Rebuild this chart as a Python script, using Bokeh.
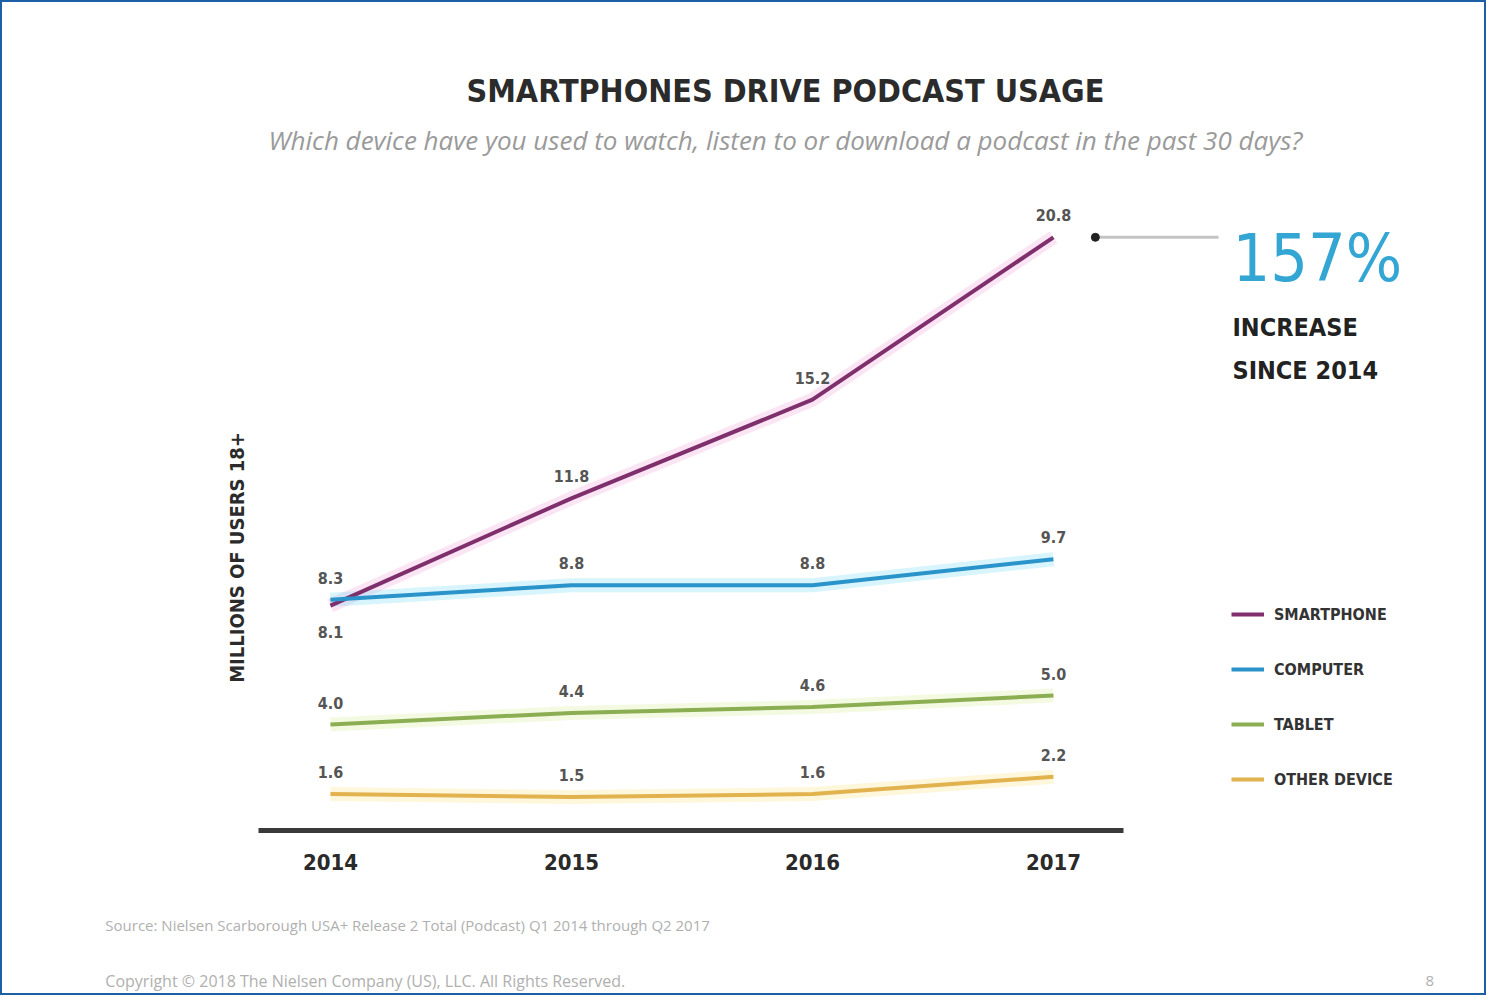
import math
from bokeh.plotting import figure
from bokeh.models import (ColumnDataSource, LinearAxis, FixedTicker, Range1d,
                          Legend, LegendItem)
from bokeh.core.properties import value
from bokeh.embed import file_html
from bokeh.resources import INLINE

# ---------------- data ----------------
years = [2014, 2015, 2016, 2017]
series_names = ["SMARTPHONE", "COMPUTER", "TABLET", "OTHER DEVICE"]
smartphone = [8.1, 11.8, 15.2, 20.8]
computer = [8.3, 8.8, 8.8, 9.7]
tablet = [4.0, 4.4, 4.6, 5.0]
other_device = [1.6, 1.5, 1.6, 2.2]
increase_pct = "157%"
title_text = "SMARTPHONES DRIVE PODCAST USAGE"
subtitle_text = "Which device have you used to watch, listen to or download a podcast in the past 30 days?"
y_title = "MILLIONS OF USERS 18+"
source_text = "Source: Nielsen Scarborough USA+ Release 2 Total (Podcast) Q1 2014 through Q2 2017"
copyright_text = "Copyright \u00a9 2018 The Nielsen Company (US), LLC. All Rights Reserved."
page_no = "8"

# ---------------- styling ----------------
NARROW_S = "DejaVu Sans Condensed, Liberation Sans Narrow, sans-serif"
NARROW = value(NARROW_S)
colors = ["#7e2f6c", "#2a93c9", "#8bae52", "#e2b24e"]
glows = ["#f2a8dc", "#7fdcf5", "#d6ef9a", "#fbe58a"]

W, H = 1486, 995
p = figure(width=W, height=H, output_backend="svg", toolbar_location=None,
           x_range=Range1d(2012.631, 2018.797), y_range=Range1d(-5.345, 28.966),
           min_border=0, min_border_left=0, min_border_right=0,
           min_border_top=0, min_border_bottom=0)
p.xaxis.visible = False
p.yaxis.visible = False
p.xgrid.visible = False
p.ygrid.visible = False
p.background_fill_color = "white"
p.border_fill_color = "white"
p.outline_line_color = "#1c5fa6"
p.outline_line_width = 3

# x axis at the baseline
xaxis = LinearAxis(fixed_location=0.345, bounds=(2013.70, 2017.29))
xaxis.ticker = FixedTicker(ticks=years)
xaxis.major_label_overrides = {y: str(y) for y in years}
xaxis.axis_line_color = "#3a3a3a"
xaxis.axis_line_width = 5
xaxis.major_tick_line_color = None
xaxis.minor_tick_line_color = None
xaxis.major_label_text_font = NARROW_S
xaxis.major_label_text_font_style = "bold"
xaxis.major_label_text_font_size = "22px"
xaxis.major_label_text_color = "#2a2a2a"
xaxis.major_label_standoff = 18
p.add_layout(xaxis, "below")

all_series = [smartphone, computer, tablet, other_device]
items = []
for name, vals, c, g in zip(series_names, all_series, colors, glows):
    p.line(years, vals, line_color=g, line_width=14, line_alpha=0.3)
for name, vals, c, g in zip(series_names, all_series, colors, glows):
    r = p.line(years, vals, line_color=c, line_width=4)
    items.append(LegendItem(label=name, renderers=[r]))

# point labels
lab_x, lab_y, lab_t, lab_off = [], [], [], []
for si, vals in enumerate(all_series):
    for yr, v in zip(years, vals):
        lab_x.append(yr)
        lab_y.append(v)
        lab_t.append(f"{v:.1f}")
        if si == 0 and yr == years[0]:
            lab_off.append(26)
        else:
            lab_off.append(-22)
src = ColumnDataSource(dict(x=lab_x, y=lab_y, t=lab_t, off=lab_off))
p.text(x="x", y="y", text="t", y_offset="off", source=src,
       text_align="center", text_baseline="middle",
       text_font=NARROW, text_font_style="bold",
       text_font_size="16px", text_color="#555555")

# title and subtitle
p.text(x=[2015.888], y=[25.86], text=[title_text], text_align="center",
       text_baseline="middle", text_font=NARROW, text_font_style="bold",
       text_font_size="32px", text_color="#2b2b2b")
p.text(x=[2015.888], y=[24.14], text=[subtitle_text], text_align="center",
       text_baseline="middle", text_font=value("Open Sans"),
       text_font_style="italic", text_font_size="26px", text_color="#9a9a9a")

# y axis title
p.text(x=[2013.614], y=[9.76], text=[y_title], angle=math.pi / 2,
       text_align="center", text_baseline="middle", text_font=NARROW,
       text_font_style="bold", text_font_size="20px", text_color="#2b2b2b")

# callout
last = smartphone[-1]
p.segment(x0=[2017.174], y0=[last], x1=[2017.685], y1=[last],
          line_color="#c4c4c4", line_width=3)
p.scatter(x=[2017.174], y=[last], size=8, color="#222222")
p.text(x=[2017.743], y=[20.07], text=[increase_pct], text_align="left",
       text_baseline="middle", text_font=NARROW, text_font_size="66px",
       text_color="#34a6d3")
p.text(x=[2017.743, 2017.743], y=[17.69, 16.21],
       text=["INCREASE", f"SINCE {years[0]}"], text_align="left",
       text_baseline="middle", text_font=NARROW, text_font_style="bold",
       text_font_size="25px", text_color="#222222")

# footer
p.text(x=[2013.066], y=[-2.93], text=[source_text], text_align="left",
       text_baseline="middle", text_font=value("Open Sans"),
       text_font_size="15px", text_color="#b0b0b0")
p.text(x=[2013.066], y=[-4.85], text=[copyright_text], text_align="left",
       text_baseline="middle", text_font=value("Open Sans"),
       text_font_size="16px", text_color="#b0b0b0")
p.text(x=[2018.544], y=[-4.85], text=[page_no], text_align="left",
       text_baseline="middle", text_font=value("Open Sans"),
       text_font_size="15px", text_color="#b0b0b0")

legend = Legend(items=items, location=(1231, 206), orientation="vertical",
                background_fill_alpha=0, border_line_color=None,
                padding=0, margin=0, spacing=35, label_height=20,
                glyph_height=20, glyph_width=33, label_standoff=10,
                label_text_font=NARROW_S, label_text_font_style="bold",
                label_text_font_size="16px", label_text_color="#333333")
p.add_layout(legend)

open("out.html", "w").write(file_html(p, INLINE))
